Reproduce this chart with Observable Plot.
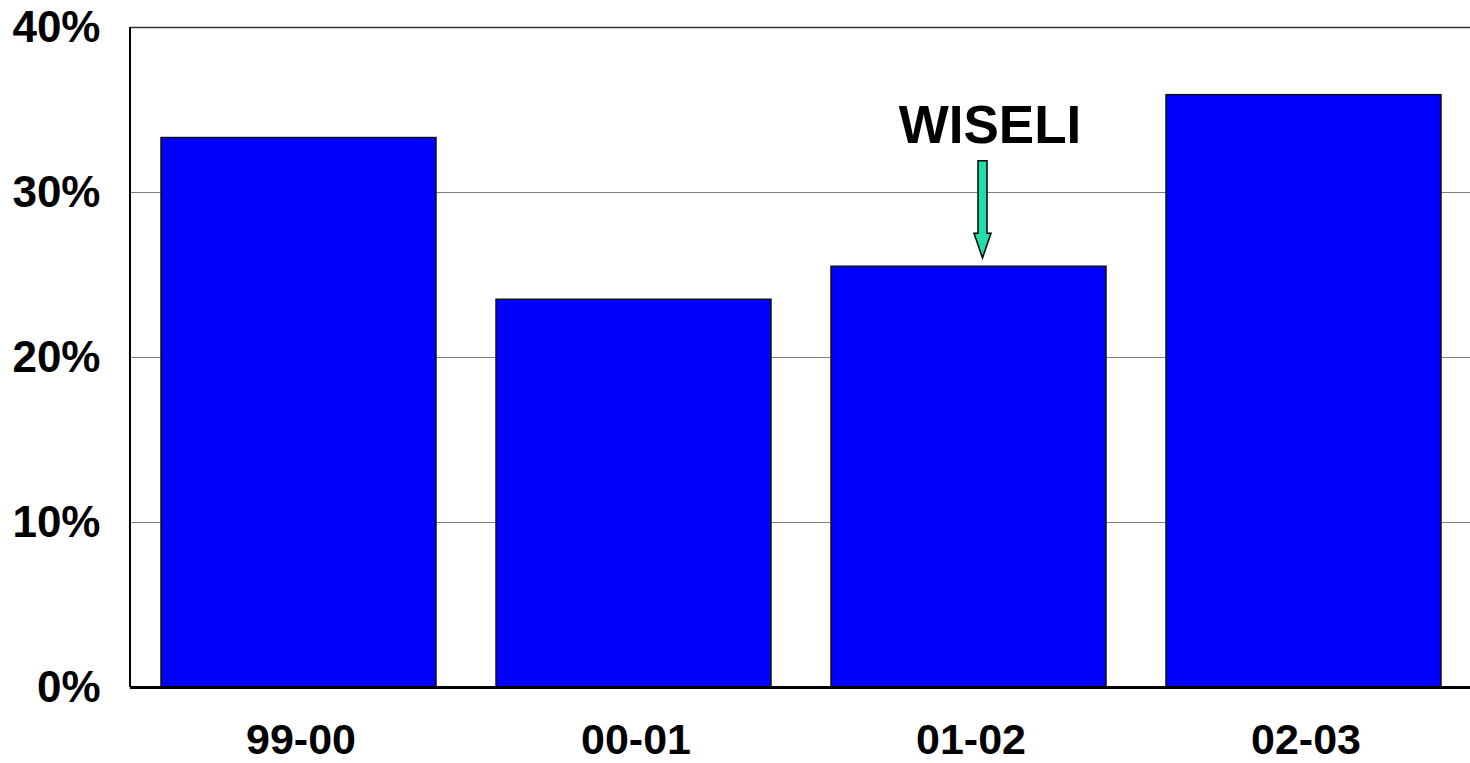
<!DOCTYPE html>
<html>
<head>
<meta charset="utf-8">
<script src="https://cdn.jsdelivr.net/npm/d3@7"></script>
<script src="https://cdn.jsdelivr.net/npm/@observablehq/plot@0.6"></script>
<style>
  html, body { margin: 0; padding: 0; background: #fff; }
</style>
</head>
<body>
<div id="chart"></div>
<script>
const categories = ["99-00", "00-01", "01-02", "02-03"];
const values = [33.3, 23.5, 25.5, 35.9];
const yTicks = [0, 10, 20, 30, 40];
const annotationLabel = "WISELI";
const annotationCategory = "01-02";
const arrowTop = 31.9;
const arrowNeck = 27.5;
const arrowTip = 26.0;
const labelValue = 33.0;

const data = categories.map((c, i) => ({ category: c, value: values[i] }));

// vertical axis line at the left edge of the frame
function yAxisLine(index, scales, values, dimensions) {
  const x = dimensions.marginLeft;
  const g = d3.create("svg:g");
  g.append("line")
    .attr("x1", x).attr("x2", x)
    .attr("y1", scales.y(40)).attr("y2", scales.y(0))
    .attr("stroke", "#000").attr("stroke-width", 2);
  return g.node();
}

// block arrow drawn through the chart's scales
function blockArrow(index, scales) {
  const bw = scales.x.bandwidth ? scales.x.bandwidth() : 0;
  const cx = scales.x(annotationCategory) + bw / 2 + 15;
  const yTop = scales.y(arrowTop), yNeck = scales.y(arrowNeck), yTip = scales.y(arrowTip);
  const sw = 4.5, hw = 8.5;
  const pts = [
    [cx - sw, yTop], [cx + sw, yTop], [cx + sw, yNeck], [cx + hw, yNeck],
    [cx, yTip], [cx - hw, yNeck], [cx - sw, yNeck]
  ];
  const g = d3.create("svg:g");
  g.append("polygon")
    .attr("points", pts.map(p => p.join(",")).join(" "))
    .attr("fill", "#22DDAA")
    .attr("stroke", "#000")
    .attr("stroke-width", 1.5)
    .attr("stroke-linejoin", "miter");
  return g.node();
}

const chart = Plot.plot({
  width: 1470,
  height: 763,
  marginLeft: 130,
  marginRight: 0,
  marginTop: 27,
  marginBottom: 76,
  style: { fontFamily: "'Liberation Sans', Arial, sans-serif", background: "#fff" },
  x: { domain: categories, paddingInner: 0.18, paddingOuter: 0.09, label: null },
  y: { domain: [0, 40], label: null },
  marks: [
    Plot.ruleY(yTicks.filter(d => d > 0 && d < 40), { stroke: "#808080", strokeWidth: 1.2 }),
    Plot.ruleY([40], { stroke: "#333", strokeWidth: 1.5 }),
    Plot.barY(data, { x: "category", y: "value", fill: "#0000FF", stroke: "#111", strokeWidth: 1.5, dx: 1 }),
    Plot.ruleY([0], { stroke: "#000", strokeWidth: 3 }),
    yAxisLine,
    Plot.axisY({
      ticks: yTicks, tickFormat: d => d + "%", tickSize: 0, tickPadding: 30,
      fontSize: 44, fontWeight: "bold", label: null, fill: "#000"
    }),
    Plot.axisX({
      tickSize: 0, tickPadding: 36, fontSize: 43, fontWeight: "bold", label: null, fill: "#000", dx: 3
    }),
    Plot.text([{ category: annotationCategory, y: labelValue, label: annotationLabel }], {
      x: "category", y: "y", text: "label", dx: 22, lineAnchor: "bottom",
      fontSize: 53, fontWeight: "bold", fill: "#000"
    }),
    blockArrow
  ]
});

document.getElementById("chart").appendChild(chart);
</script>
</body>
</html>
